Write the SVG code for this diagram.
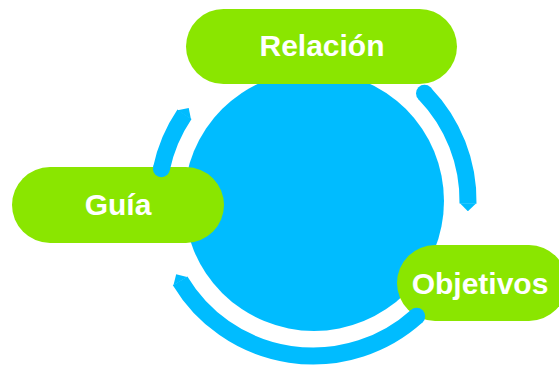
<svg xmlns="http://www.w3.org/2000/svg" width="559" height="367" viewBox="0 0 559 367">
<style>
.pill{fill:#8AE600}
.lbl{font-family:"Liberation Sans",Arial,sans-serif;font-weight:bold;font-size:30px;fill:#ffffff;text-anchor:middle}
.arc{fill:none;stroke:#00BCFF;stroke-width:17}
</style>
<defs>
<marker id="tip" markerUnits="userSpaceOnUse" viewBox="0 0 10 20" refX="0.5" refY="10" markerWidth="8" markerHeight="17" orient="auto">
<path d="M0,0 L10,10 L0,20 z" fill="#00BCFF"/>
</marker>
</defs>
<rect width="559" height="367" fill="#ffffff"/>
<g id="center">
<circle cx="314" cy="201" r="130" fill="#00BCFF"/>
</g>
<g id="relacion">
<rect class="pill" x="186" y="9" width="271" height="75" rx="37.5"/>
<text class="lbl" x="322" y="56">Relación</text>
</g>
<g id="guia">
<rect class="pill" x="12" y="167" width="212" height="76" rx="38"/>
<text class="lbl" x="118" y="215">Guía</text>
</g>
<g id="objetivos">
<rect class="pill" x="397" y="245" width="170" height="76" rx="38"/>
<text class="lbl" x="480" y="294">Objetivos</text>
</g>
<g id="connectors">
<path class="arc" stroke-linecap="butt" marker-end="url(#tip)" d="M424.5,93.3 A155,155 0 0 1 468,203.7"/>
<circle cx="424.5" cy="93.3" r="8.5" fill="#00BCFF"/>
<path class="arc" marker-end="url(#tip)" d="M416.7,316.2 A155,155 0 0 1 180.1,280.8"/>
<circle cx="416.7" cy="316.2" r="8.5" fill="#00BCFF"/>
<path class="arc" marker-end="url(#tip)" d="M161.4,168.8 A155,155 0 0 1 184.5,114.3"/>
<circle cx="161.4" cy="168.8" r="8.5" fill="#00BCFF"/>
</g>
</svg>
